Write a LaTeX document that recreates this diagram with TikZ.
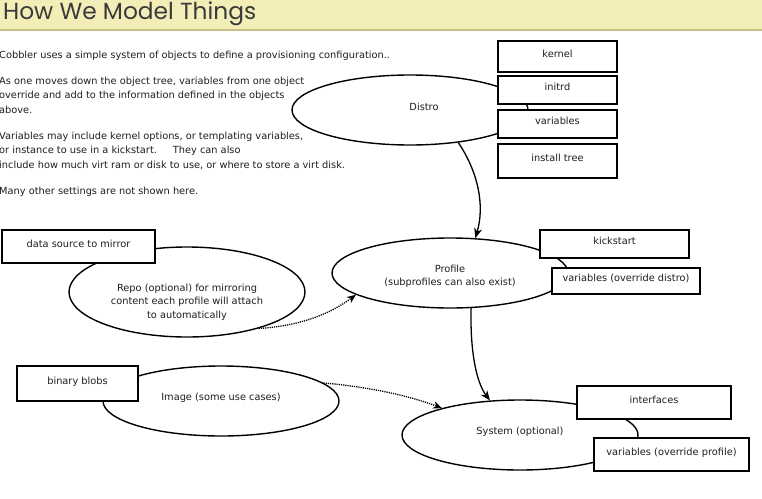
\documentclass[tikz,border=0pt]{standalone}
\usepackage{fontspec}
\setmainfont{DejaVu Sans}
\newfontfamily\titlefont{Poppins}
\usetikzlibrary{shapes.geometric,arrows.meta}
\definecolor{barfill}{HTML}{F3EDB8}
\definecolor{barline}{HTML}{C8C08A}
\definecolor{titletext}{HTML}{3A3A3A}
\definecolor{bodytext}{HTML}{1E1E1E}
\tikzset{
  bodyfont/.style={font=\fontsize{9.8}{13.5}\selectfont, text=bodytext},
  txt/.style={anchor=west, inner sep=0pt, bodyfont},
  obj/.style={draw, ellipse, line width=1.4pt, fill=white, inner sep=0pt,
              minimum width=236pt, minimum height=70pt},
  objtext/.style={bodyfont, align=center, inner sep=0pt},
  prop/.style={draw, rectangle, line width=1.3pt, fill=white, inner sep=0pt, bodyfont,
               text height=7.5pt, text depth=6.5pt},
  arr/.style={line width=1.3pt, -{Stealth[length=10pt,width=8pt]}},
  dotarr/.style={line width=1.3pt, dash pattern=on 1.2pt off 1pt, -{Stealth[length=9pt,width=7.5pt]}}
}
\begin{document}
\begin{tikzpicture}[x=1pt,y=-1pt]
\useasboundingbox (0,0) rectangle (762,498);
% title bar
\fill[barfill] (0,0) rectangle (762,30);
\draw[barline, line width=1.2pt] (0,30) -- (762,30);
\node[anchor=west, inner sep=0pt, font=\titlefont\fontsize{23.3}{26}\selectfont, text=titletext] (title) at (3,14) {How We Model Things};
% intro text
\node[txt] (l1) at (-1,56) {Cobbler uses a simple system of objects to define a provisioning configuration..};
\node[txt] (l2) at (-1,82) {As one moves down the object tree, variables from one object};
\node[txt] (l3) at (-1,96) {override and add to the information defined in the objects};
\node[txt] (l4) at (-1,110) {above.};
\node[txt] (l5) at (-1,137) {Variables may include kernel options, or templating variables,};
\node[txt] (l6) at (-1,151) {or instance to use in a kickstart.\hspace{1.2em} They can also};
\node[txt] (l7) at (-1,165) {include how much virt ram or disk to use, or where to store a virt disk.};
\node[txt] (l8) at (-1,192) {Many other settings are not shown here.};
% ellipses
\node[obj, label={[objtext, xshift=14pt, yshift=3pt]center:Distro}] (distro) at (410,110) {};
\node[obj, label={[objtext, yshift=-3.5pt]center:Profile\\(subprofiles can also exist)}] (profile) at (450,273) {};
\node[obj, minimum height=90pt, label={[objtext, yshift=-10pt]center:Repo (optional) for mirroring\\content each profile will attach\\to automatically}] (repo) at (187,292) {};
\node[obj, label={[objtext, yshift=3pt]center:Image (some use cases)}] (image) at (221,401) {};
\node[obj, label={[objtext, yshift=3pt]center:System (optional)}] (system) at (520,435) {};
% property boxes
\node[prop, minimum width=119pt, minimum height=31pt] (kernel) at (557.5,56.5) {kernel};
\node[prop, minimum width=119pt, minimum height=28pt] (initrd) at (557.5,90) {initrd};
\node[prop, minimum width=119pt, minimum height=28pt] (dvars) at (557.5,124) {variables};
\node[prop, minimum width=119pt, minimum height=34pt] (tree) at (557.5,161) {install tree};
\node[prop, minimum width=149pt, minimum height=28pt] (kick) at (614.5,244) {kickstart};
\node[prop, minimum width=148pt, minimum height=26pt] (pvars) at (626,281) {variables (override distro)};
\node[prop, minimum width=153pt, minimum height=33pt] (blob0) at (78.5,246.5) {data source to mirror};
\node[prop, minimum width=121pt, minimum height=35pt] (blobs) at (77.5,383.5) {binary blobs};
\node[prop, minimum width=154pt, minimum height=33pt] (ifaces) at (654,402.5) {interfaces};
\node[prop, minimum width=155pt, minimum height=33pt] (svars) at (671.5,454.5) {variables (override profile)};
% connectors
\draw[arr] (distro.-34) .. controls (478,172) and (485,205) .. (profile.54);
\draw[arr] (profile.-59) .. controls (470,350) and (476,382) .. (system.131);
\draw[dotarr] (repo.-27) .. controls (300,326) and (330,314) .. (profile.-167);
\draw[dotarr] (image.10) .. controls (370,387) and (410,396) .. (system.161);
\end{tikzpicture}
\end{document}
